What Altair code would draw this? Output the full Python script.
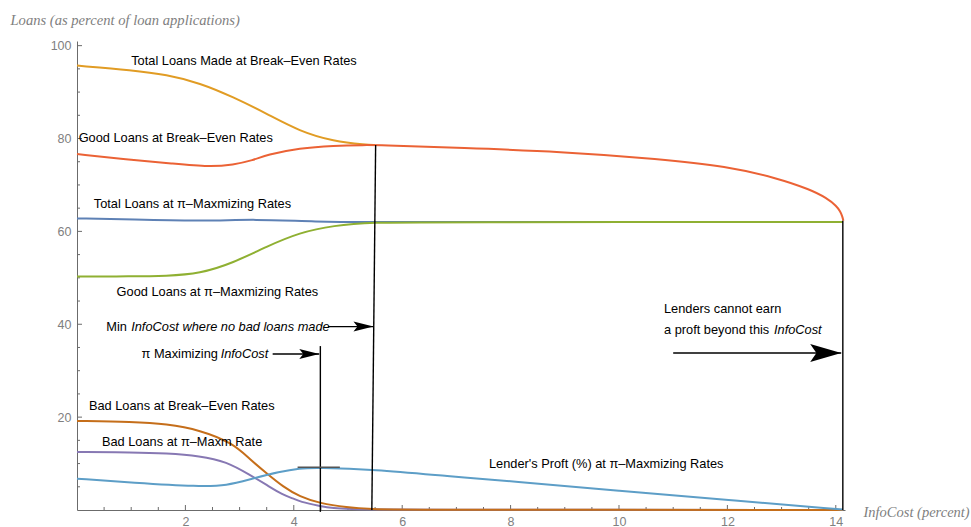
import altair as alt
import pandas as pd

# ---------------- data ----------------
# InfoCost (percent) -> loans (% of loan applications)
total_be_x = [0, 1.03, 1.65, 2.27, 2.88, 3.5, 4.11, 4.73, 5.34, 5.5]
total_be_y = [95.7, 94.7, 93.75, 91.96, 88.94, 85.34, 81.53, 79.38, 78.66, 78.6]

good_be_x = [0, 0.91, 1.77, 2.45, 2.88, 3.25, 3.5, 4.11, 4.73, 5.34, 5.5, 7.12,
             8.91, 10.76, 11.99, 12.91, 13.53, 13.83, 14.02, 14.08, 14.12, 14.14]
good_be_y = [76.66, 75.5, 74.6, 73.86, 74.35, 75.3, 76.5, 77.95, 78.45, 78.6, 78.6, 77.95,
             77.2, 75.6, 74.0, 71.5, 69.0, 67.2, 65.4, 64.3, 63.3, 62.3]

total_pi_x = [0, 1.0, 2.39, 3.25, 4.42, 5.46, 6.5, 14.13]
total_pi_y = [62.78, 62.6, 62.2, 62.65, 62.07, 62.0, 62.0, 62.0]

good_pi_x = [0, 1.0, 1.65, 2.27, 2.88, 3.5, 4.11, 4.73, 5.46, 6.5, 14.13]
good_pi_y = [50.28, 50.3, 50.4, 50.9, 53.2, 56.75, 59.76, 61.27, 61.95, 62.0, 62.0]

bad_pi_x = [0, 1.03, 1.65, 2.27, 2.76, 3.19, 3.5, 3.8, 3.99, 4.11, 4.48, 4.73, 5.04, 5.5, 14.13]
bad_pi_y = [12.5, 12.43, 12.22, 11.64, 10.41, 7.54, 5.39, 3.23, 2.5, 1.79, 0.86, 0.37, 0.2, 0.05, 0.0]

bad_be_x = [0, 1.03, 1.65, 2.27, 2.88, 3.19, 3.5, 3.8, 4.11, 4.48, 4.97, 5.45, 6.0, 14.13]
bad_be_y = [19.18, 18.97, 18.53, 17.24, 14.37, 10.9, 7.9, 5.02, 2.87, 1.44, 0.58, 0.2, 0.05, 0.0]

profit_x = [0, 1.03, 2.27, 2.76, 3.22, 3.74, 4.11, 4.42, 5.46, 6.88, 8.0, 10.0, 12.0, 14.13]
profit_y = [6.75, 5.88, 5.02, 5.24, 6.7, 8.25, 8.99, 9.12, 8.77, 7.25, 6.2, 4.16, 2.16, 0.1]

series_names = ["Total Loans Made at Break-Even Rates", "Good Loans at Break-Even Rates",
                "Total Loans at pi-Maximizing Rates", "Good Loans at pi-Maximizing Rates",
                "Bad Loans at pi-Max Rate", "Bad Loans at Break-Even Rates", "Lender's Profit"]
series_x = [total_be_x, good_be_x, total_pi_x, good_pi_x, bad_pi_x, bad_be_x, profit_x]
series_y = [total_be_y, good_be_y, total_pi_y, good_pi_y, bad_pi_y, bad_be_y, profit_y]
series_colors = ["#E19C24", "#EB6235", "#5E81B5", "#8FB032", "#8778B3", "#C56E1A", "#5D9EC7"]

# annotations
label_text = ["Total Loans Made at Break–Even Rates", "Good Loans at Break–Even Rates",
              "Total Loans at π–Maxmizing Rates", "Good Loans at π–Maxmizing Rates",
              "Min", "π Maximizing", "Bad Loans at Break–Even Rates", "Bad Loans at π–Maxm Rate",
              "Lender's Proft (%) at π–Maxmizing Rates", "Lenders cannot earn", "a proft beyond this"]
label_x = [1.0, 0.03, 0.31, 0.73, 0.54, 1.19, 0.22, 0.46, 7.6, 10.83, 10.83]
label_y = [96.6, 80.1, 65.9, 46.9, 39.5, 33.6, 22.4, 14.6, 9.85, 43.3, 38.8]

italic_text = ["InfoCost where no bad loans made", "InfoCost", "InfoCost"]
italic_x = [1.0, 2.65, 12.86]
italic_y = [39.5, 33.6, 38.8]

vline_x0 = [4.49, 5.44, 14.13]
vline_x1 = [4.49, 5.51, 14.13]
vline_y0 = [-0.4, 0.0, 0.0]
vline_y1 = [35.3, 78.6, 62.3]

arrow_x0 = [4.63, 3.61, 11.0]
arrow_x1 = [5.47, 4.47, 14.1]
arrow_y = [39.5, 33.6, 33.8]

max_mark_x0, max_mark_x1, max_mark_y = [4.07], [4.85], [9.2]

x_major = [2, 4, 6, 8, 10, 12, 14]
x_minor = [0.5, 1, 1.5, 2.5, 3, 3.5, 4.5, 5, 5.5, 6.5, 7, 7.5, 8.5, 9, 9.5,
           10.5, 11, 11.5, 12.5, 13, 13.5]
y_major = [20, 40, 60, 80, 100]
y_minor = [5, 10, 15, 25, 30, 35, 45, 50, 55, 65, 70, 75, 85, 90, 95]

# ---------------- chart ----------------
W, H = 768, 469
AX = "#6b6b6b"
LBL = "#808080"
SANS = "Liberation Sans"
SERIF = "Liberation Serif"
FS = 12.8

xs = alt.Scale(domain=[0, 14.17], nice=False, zero=False)
ys = alt.Scale(domain=[0, 101], nice=False)

xaxis = alt.Axis(values=x_major, ticks=False, tickSize=0, grid=False, domainColor=AX,
                 labelColor=LBL, labelFont=SANS, labelFontSize=12.5, labelPadding=5,
                 labelFlush=False, labelOverlap=False, labelBaseline="top",
                 title="InfoCost (percent)", titleFont=SERIF, titleFontStyle="italic",
                 titleFontWeight="normal", titleFontSize=14.5, titleColor=LBL,
                 titleX=786, titleY=2, titleAlign="left", titleBaseline="middle", titleAngle=0)
yaxis = alt.Axis(values=y_major, ticks=False, tickSize=0, grid=False, domainColor=AX,
                 labelColor=LBL, labelFont=SANS, labelFontSize=12.5, labelPadding=6,
                 labelFlush=False, labelOverlap=False,
                 title="Loans (as percent of loan applications)", titleFont=SERIF,
                 titleFontStyle="italic", titleFontWeight="normal", titleFontSize=14.6,
                 titleColor=LBL, titleX=-67, titleY=-21, titleAlign="left",
                 titleBaseline="middle", titleAngle=0)

X = lambda f: alt.X(f, type="quantitative", scale=xs, axis=xaxis)
Y = lambda f: alt.Y(f, type="quantitative", scale=ys, axis=yaxis)

layers = []

# axis ticks (inward, Mathematica style)
layers.append(alt.Chart(pd.DataFrame({"t": x_major})).mark_rule(color=AX, strokeWidth=1)
              .encode(x=X("t"), y=alt.value(H), y2=alt.value(H - 5)))
layers.append(alt.Chart(pd.DataFrame({"t": x_minor})).mark_rule(color=AX, strokeWidth=1)
              .encode(x=X("t"), y=alt.value(H), y2=alt.value(H - 3)))
layers.append(alt.Chart(pd.DataFrame({"t": y_major})).mark_rule(color=AX, strokeWidth=1)
              .encode(y=Y("t"), x=alt.value(0), x2=alt.value(5)))
layers.append(alt.Chart(pd.DataFrame({"t": y_minor})).mark_rule(color=AX, strokeWidth=1)
              .encode(y=Y("t"), x=alt.value(0), x2=alt.value(3)))

# curves
for name, xv, yv, col in zip(series_names, series_x, series_y, series_colors):
    df = pd.DataFrame({"x": xv, "y": yv, "series": name})
    layers.append(alt.Chart(df).mark_line(color=col, strokeWidth=2, interpolate="basis")
                  .encode(x=X("x"), y=Y("y")))

# vertical reference lines
vdf = pd.DataFrame({"x0": vline_x0, "x1": vline_x1, "y0": vline_y0, "y1": vline_y1})
layers.append(alt.Chart(vdf).mark_rule(color="black", strokeWidth=1.4)
              .encode(x=X("x0"), x2="x1", y=Y("y0"), y2="y1"))

# max-profit marker
mdf = pd.DataFrame({"x0": max_mark_x0, "x1": max_mark_x1, "y": max_mark_y})
layers.append(alt.Chart(mdf).mark_rule(color="#555555", strokeWidth=1.6)
              .encode(x=X("x0"), x2="x1", y=Y("y")))

# arrows
adf = pd.DataFrame({"x0": arrow_x0, "x1": arrow_x1, "y": arrow_y})
layers.append(alt.Chart(adf).mark_rule(color="black", strokeWidth=1.4)
              .encode(x=X("x0"), x2="x1", y=Y("y")))
small = pd.DataFrame({"x": arrow_x1[:2], "y": arrow_y[:2]})
big = pd.DataFrame({"x": arrow_x1[2:], "y": arrow_y[2:]})
layers.append(alt.Chart(small).mark_point(shape="M0,0 L-2,-0.5 L-1.6,0 L-2,0.5 Z", filled=True,
                                          color="black", opacity=1, size=400, strokeWidth=0)
              .encode(x=X("x"), y=Y("y")))
layers.append(alt.Chart(big).mark_point(shape="M0,0 L-2,-0.58 L-1.6,0 L-2,0.58 Z", filled=True,
                                        color="black", opacity=1, size=961, strokeWidth=0)
              .encode(x=X("x"), y=Y("y")))

# labels
ldf = pd.DataFrame({"x": label_x, "y": label_y, "t": label_text})
layers.append(alt.Chart(ldf).mark_text(align="left", baseline="middle", font=SANS,
                                       fontSize=FS, color="black")
              .encode(x=X("x"), y=Y("y"), text="t:N"))
idf = pd.DataFrame({"x": italic_x, "y": italic_y, "t": italic_text})
layers.append(alt.Chart(idf).mark_text(align="left", baseline="middle", font=SANS,
                                       fontSize=FS, fontStyle="italic", color="black")
              .encode(x=X("x"), y=Y("y"), text="t:N"))

chart = (alt.layer(*layers)
         .properties(width=W, height=H, background="white",
                     padding={"left": 77, "top": 41, "right": 971 - 77 - W, "bottom": 527 - 41 - H},
                     autosize=alt.AutoSizeParams(type="none"))
         .configure_view(stroke="transparent", strokeWidth=0))

chart.save("out.html", embed_options={"renderer": "svg", "actions": False})
